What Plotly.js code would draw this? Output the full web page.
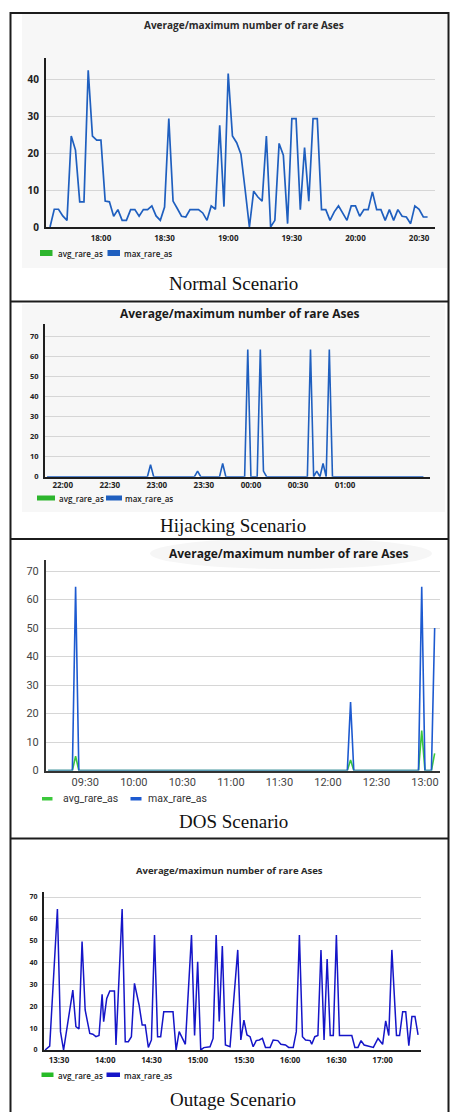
<!DOCTYPE html>
<html>
<head>
<meta charset="utf-8">
<script src="https://cdn.plot.ly/plotly-3.0.1.min.js"></script>
<style>
html,body{margin:0;padding:0;background:#ffffff;}
#chart{width:450px;height:1112px;}
</style>
</head>
<body>
<div id="chart"></div>
<script>
// ---------------- DATA ----------------
// Panel 1: Normal Scenario
const normalTimes = [
  '17:36','17:38','17:40','17:42','17:44','17:46','17:48','17:50','17:52','17:54','17:56','17:58',
  '18:00','18:02','18:04','18:06','18:08','18:10','18:12','18:14','18:16','18:18','18:20','18:22','18:24','18:26','18:28',
  '18:30','18:32','18:34','18:36','18:38','18:40','18:42','18:44','18:46','18:48','18:50','18:52','18:54','18:56','18:58',
  '19:00','19:02','19:04','19:06','19:08','19:10','19:12','19:14','19:16','19:18','19:20','19:22','19:24','19:26','19:28',
  '19:30','19:32','19:34','19:36','19:38','19:40','19:42','19:44','19:46','19:48','19:50','19:52','19:54','19:56','19:58',
  '20:00','20:02','20:04','20:06','20:08','20:10','20:12','20:14','20:16','20:18','20:20','20:22','20:24','20:26','20:28',
  '20:30','20:32','20:34'
];
const normalMax = [
  0, 4.8, 4.8, 3.0, 1.8, 24.6, 20.8, 6.8, 6.8, 42.4, 24.6, 23.5,
  23.5, 7.0, 6.8, 2.9, 4.7, 1.8, 1.8, 4.7, 4.7, 2.9, 4.7, 4.7, 5.7, 3.0, 1.8,
  5.4, 29.3, 7.0, 5.0, 2.9, 2.7, 4.7, 4.7, 4.7, 3.8, 1.8, 5.7, 4.8, 27.5, 5.5,
  41.5, 24.6, 22.8, 19.7, 10.0, 0, 9.7, 8.1, 7.0, 24.6, 0, 1.8, 22.6, 19.4, 0.9,
  29.3, 29.3, 4.7, 21.5, 7.0, 29.3, 29.3, 4.7, 4.7, 1.8, 4.1, 5.7, 3.8, 1.8, 5.7,
  5.7, 2.9, 4.7, 4.7, 9.5, 4.7, 4.7, 1.8, 4.7, 1.8, 4.7, 2.9, 2.7, 0.9, 5.7,
  4.8, 2.7, 2.7
];
const normalAvgTimes = [];
const normalAvg = [];

// Panel 2: Hijacking Scenario (vertices of the line)
const hijackTimes = ['21:50','22:54','22:56','22:58','23:24','23:26','23:28','23:40','23:42','23:44',
  '23:56','23:58','00:00','00:04','00:06','00:08','00:10','00:36','00:38','00:40','00:42','00:44',
  '00:46','00:48','00:50','00:52','01:50'];
const hijackMax = [0, 0, 6, 0, 0, 2.8, 0, 0, 6.6, 0,
  0, 63.5, 0, 0, 63.5, 2.8, 0, 0, 63.5, 0, 2.8, 0,
  6.6, 0, 63.5, 0, 0];
const hijackAvgTimes = [];
const hijackAvg = [];
const hijackTickTimes = ['22:00','22:30','23:00','23:30','00:00','00:30','01:00'];

// Panel 3: DOS Scenario
const dosTimes = ['09:07','09:22','09:24','09:26','12:12','12:14','12:16','12:56','12:58','13:00','13:04','13:06'];
const dosMax   = [0, 0, 64.5, 0, 0, 24, 0, 0, 64.5, 0, 0, 50];
const dosAvg   = [0, 0, 5,    0, 0, 3.7, 0, 0, 14,  0, 0, 6];

// Panel 4: Outage Scenario
const outageTimes = ['13:21','13:24','13:29','13:31','13:33','13:36','13:39','13:41','13:43','13:45','13:47','13:50',
  '13:52','13:54','13:56','13:58','13:59','14:01','14:03','14:06','14:07','14:11','14:13','14:15','14:17','14:19',
  '14:22','14:24','14:26','14:28','14:30','14:32','14:34','14:36','14:38','14:44','14:46','14:48','14:52','14:56',
  '14:58','15:00','15:02','15:04','15:08','15:10','15:12','15:14','15:16','15:18','15:21','15:26','15:28','15:30',
  '15:32','15:34','15:36','15:38','15:40','15:42','15:44','15:47','15:49','15:52','15:54','15:57','15:59','16:02',
  '16:04','16:06','16:08','16:10','16:13','16:14','16:16','16:18','16:20','16:22','16:24','16:26','16:28','16:30',
  '16:32','16:40','16:42','16:44','16:46','16:48','16:51','16:54','16:57','17:00','17:02','17:04','17:06','17:09',
  '17:11','17:13','17:15','17:17','17:19','17:21','17:23'];
const outageMax = [0, 1.8, 64.5, 8.4, 0, 13, 27.4, 10.7, 9.6, 49.6, 18.3, 7.6,
  7.2, 6.1, 6.6, 25.5, 13, 23.6, 27, 27, 2.3, 64.5, 3.8, 3.8, 6.1, 30.5,
  20.6, 11.4, 11.4, 1.2, 4.6, 52.6, 6.1, 6.1, 17.5, 17.5, 0, 8.4, 2.6, 52.6,
  6.6, 40.4, 0, 1.1, 1.5, 5.3, 52.6, 13, 47.6, 2.3, 1.5, 45.8, 4.6, 13.7,
  6.9, 6.1, 1.5, 4.3, 4.6, 5.3, 1.2, 1.2, 4.6, 4.3, 2.6, 2.3, 1.2, 1.2,
  8.4, 52.6, 6.1, 4.6, 4.3, 2.6, 6.1, 6.6, 45.8, 4.6, 41.6, 6.6, 6.6, 52.6,
  6.6, 6.6, 1.2, 1.2, 4.3, 2.3, 1.8, 1.2, 5.3, 2.6, 13.3, 6.6, 45.8, 6.6,
  6.6, 17.5, 17.5, 2, 15.3, 15.3, 6.9];
const outageAvgTimes = [];
const outageAvg = [];

const seriesNames = ['avg_rare_as', 'max_rare_as'];
const chartTitles = ['Average/maximum number of rare Ases', 'Average/maximum number of rare Ases',
  'Average/maximum number of rare Ases', 'Average/maximun number of rare Ases'];
const captions = ['Normal Scenario', 'Hijacking Scenario', 'DOS Scenario', 'Outage Scenario'];

// ---------------- HELPERS ----------------
const W = 450, H = 1112;
const px = v => v / W;
const py = v => 1 - v / H;
function toDates(times) {
  let day = 1, prev = -1;
  return times.map(t => {
    const [h, m] = t.split(':').map(Number);
    const mins = h * 60 + m;
    if (mins < prev) day += 1;
    prev = mins;
    return '2024-01-0' + day + ' ' + String(h).padStart(2, '0') + ':' + String(m).padStart(2, '0') + ':00';
  });
}

const C = {
  blue: '#1f5fbf', green: '#2db52d',
  dosBlue: '#1d5ad0', dosGreen: '#3cc83c',
  outBlue: '#1515c8', outGreen: '#26bb26',
  grid: '#d6d6d6', axis: '#1e1e1e', border: '#1c1c1c', panel: '#f7f7f7'
};

// ---------------- TRACES ----------------
function line(x, y, name, color, xa, ya, w) {
  return {type: 'scatter', mode: 'lines', x: toDates(x), y: y, name: name,
    xaxis: xa, yaxis: ya, showlegend: false, hoverinfo: 'skip',
    line: {color: color, width: w || 1.6}};
}
const traces = [
  line(normalAvgTimes, normalAvg, seriesNames[0], C.green, 'x', 'y'),
  line(normalTimes, normalMax, seriesNames[1], C.blue, 'x', 'y', 1.7),
  line(hijackAvgTimes, hijackAvg, seriesNames[0], C.green, 'x2', 'y2'),
  line(hijackTimes, hijackMax, seriesNames[1], C.blue, 'x2', 'y2', 1.6),
  line(dosTimes, dosAvg, seriesNames[0], C.dosGreen, 'x3', 'y3', 1.6),
  line(dosTimes, dosMax, seriesNames[1], C.dosBlue, 'x3', 'y3', 1.6),
  line(outageAvgTimes, outageAvg, seriesNames[0], C.outGreen, 'x4', 'y4'),
  line(outageTimes, outageMax, seriesNames[1], C.outBlue, 'x4', 'y4', 1.5)
];

// ---------------- AXES ----------------
function xAx(d0, d1, range, anchor, font, standoff) {
  return {domain: [px(d0), px(d1)], anchor: anchor, type: 'date', range: range,
    tickformat: '%H:%M', dtick: 1800000, showgrid: false, zeroline: false,
    showline: true, linecolor: C.axis, linewidth: 2, ticks: '', tickfont: font,
    ticklabelstandoff: standoff, fixedrange: true};
}
function yAx(top, bottom, ymax, anchor, font, standoff) {
  return {domain: [py(bottom), py(top)], anchor: anchor, range: [0, ymax],
    tick0: 0, dtick: 10, showgrid: true, gridcolor: C.grid, gridwidth: 1, zeroline: false,
    showline: true, linecolor: C.axis, linewidth: 2, ticks: '', tickfont: font,
    ticklabelstandoff: standoff, fixedrange: true};
}
const bold = (s, c) => ({family: 'Open Sans, DejaVu Sans, sans-serif', size: s, color: c || '#222', weight: 700});
const robo = (s, c) => ({family: 'Roboto, sans-serif', size: s, color: c || '#444'});

// ---------------- ANNOTATIONS ----------------
function txt(t, x, y, font, anchor) {
  return {text: t, x: px(x), y: py(y), xref: 'paper', yref: 'paper', showarrow: false,
    xanchor: anchor || 'center', yanchor: 'middle', font: font};
}
const serif = {family: 'Liberation Serif, Times New Roman, serif', size: 19, color: '#111'};
const legFont = {family: 'Open Sans, DejaVu Sans, sans-serif', size: 8, color: '#1a1a1a', weight: 600};
const annotations = [
  txt(chartTitles[0], 244, 25, bold(10, '#2a2a2a')),
  txt(chartTitles[1], 240, 313, bold(12, '#1a1a1a')),
  txt(chartTitles[2], 289, 553, bold(12, '#1a1a1a')),
  txt(chartTitles[3], 230, 870, bold(9.5, '#2a2a2a')),
  txt(captions[0], 233, 284, serif),
  txt(captions[1], 233, 526, serif),
  txt(captions[2], 233, 821, serif),
  txt(captions[3], 233, 1099, serif),
  // legends
  txt(seriesNames[0], 56, 253, legFont, 'left'),
  txt(seriesNames[1], 121.5, 253, legFont, 'left'),
  txt(seriesNames[0], 56.5, 498, legFont, 'left'),
  txt(seriesNames[1], 122.5, 498, legFont, 'left'),
  txt(seriesNames[0], 61, 798.5, robo(10.5, '#333'), 'left'),
  txt(seriesNames[1], 145.5, 798.5, robo(10.5, '#333'), 'left'),
  txt(seriesNames[0], 55.5, 1075, legFont, 'left'),
  txt(seriesNames[1], 121.5, 1075, legFont, 'left')
];

// ---------------- SHAPES ----------------
function rect(x0, y0, x1, y1, fill, layer) {
  return {type: 'rect', xref: 'paper', yref: 'paper', x0: px(x0), x1: px(x1), y0: py(y1), y1: py(y0),
    fillcolor: fill, line: {width: 0}, layer: layer || 'above'};
}
function hline(x0, x1, y, w, c) {
  return {type: 'line', xref: 'paper', yref: 'paper', x0: px(x0), x1: px(x1), y0: py(y), y1: py(y),
    line: {color: c || C.border, width: w || 2}, layer: 'above'};
}
function vline(x, y0, y1, w, c) {
  return {type: 'line', xref: 'paper', yref: 'paper', x0: px(x), x1: px(x), y0: py(y0), y1: py(y1),
    line: {color: c || C.border, width: w || 2}, layer: 'above'};
}
const shapes = [
  rect(22, 14, 447, 268, C.panel, 'below'),
  rect(22, 304, 445, 512, C.panel, 'below'),
  {type: 'circle', xref: 'paper', yref: 'paper', x0: px(150), x1: px(432), y0: py(569), y1: py(538),
    fillcolor: '#f6f6f6', line: {width: 0}, layer: 'below'},
  // panel borders
  hline(10, 449, 13),
  hline(10, 449, 301.5),
  hline(10, 449, 539),
  hline(10, 449, 838.5),
  vline(10.5, 12, 1112),
  vline(448.5, 12, 1112),
  // legend swatches
  rect(40, 250, 52.5, 256, C.green),
  rect(107.5, 250, 120, 256, C.blue),
  rect(37, 495.5, 55, 500.5, C.green),
  rect(106, 495.5, 122, 500.5, C.blue),
  rect(42, 797, 52.5, 800.5, C.dosGreen),
  rect(130.5, 797, 141.5, 800.5, C.dosBlue),
  rect(41.5, 1072.5, 53.5, 1077, C.outGreen),
  rect(106.5, 1072.5, 120, 1077, C.outBlue)
];

const layout = {
  width: W, height: H, margin: {l: 0, r: 0, t: 0, b: 0},
  paper_bgcolor: '#ffffff', plot_bgcolor: 'rgba(0,0,0,0)', showlegend: false,
  xaxis:  xAx(46, 435, ['2024-01-01 17:34:06', '2024-01-01 20:37:30'], 'y',  bold(8), 2),
  yaxis:  yAx(58, 227, 45.7, 'x',  bold(10), 3),
  xaxis2: xAx(45, 430, ['2024-01-01 21:48:42', '2024-01-02 01:54:12'], 'y2', bold(8), 0),
  yaxis2: yAx(324, 476.7, 76.2, 'x2', bold(7.5), 3),
  xaxis3: xAx(46, 440, ['2024-01-01 09:05:42', '2024-01-01 13:09:18'], 'y3', robo(11), 0),
  yaxis3: yAx(560, 770.5, 73.9, 'x3', robo(11), 3),
  xaxis4: xAx(44, 421, ['2024-01-01 13:20:18', '2024-01-01 17:24:54'], 'y4', bold(8), 1),
  yaxis4: yAx(892, 1050, 72.3, 'x4', bold(7), 3),
  annotations: annotations,
  shapes: shapes
};
layout.xaxis2.tickmode = 'array';
layout.xaxis2.tickvals = toDates(hijackTickTimes);
layout.xaxis2.ticktext = hijackTickTimes;
layout.xaxis3.linecolor = '#333';
layout.yaxis3.linecolor = '#333';

Plotly.newPlot('chart', traces, layout, {displayModeBar: false, staticPlot: true});
</script>
</body>
</html>
